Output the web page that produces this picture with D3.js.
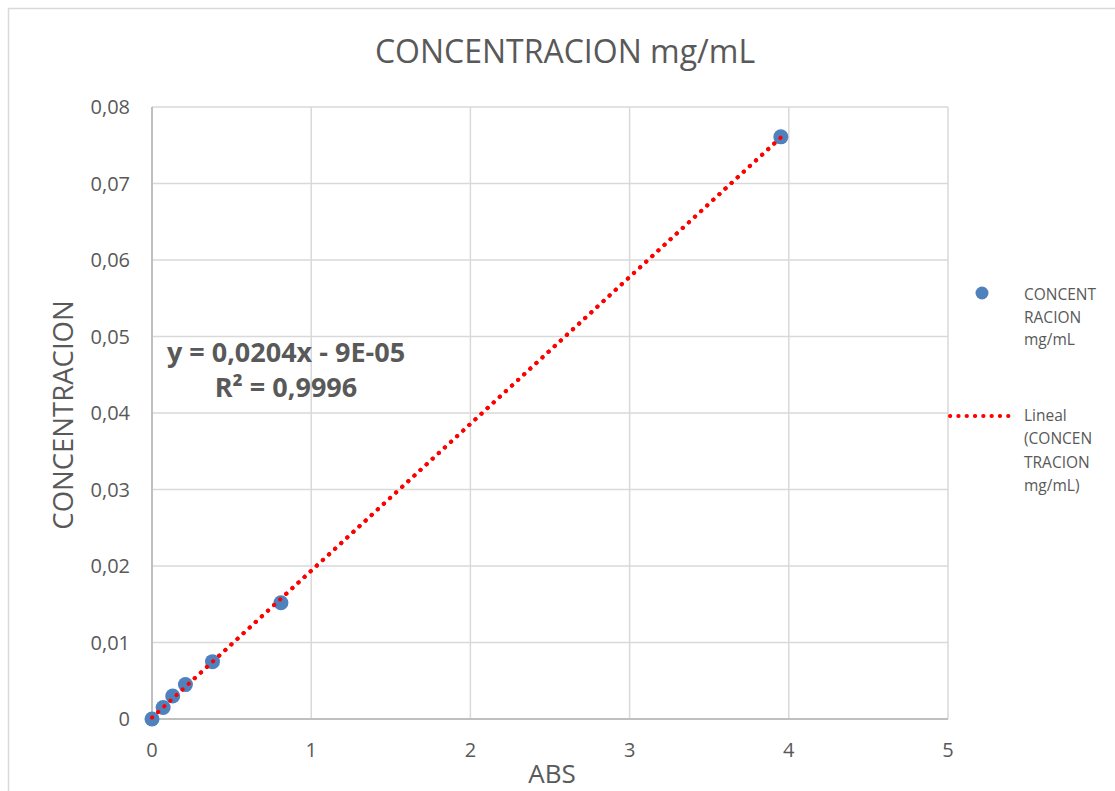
<!DOCTYPE html>
<html>
<head>
<meta charset="utf-8">
<script src="https://cdn.jsdelivr.net/npm/d3@7"></script>
<style>
  html, body { margin: 0; padding: 0; background: #fff; }
  svg { display: block; }
  text { font-family: "Open Sans", "Noto Sans", sans-serif; fill: #595959; }
</style>
</head>
<body>
<svg id="chart" width="1115" height="791"></svg>
<script>
// Calibration data: absorbance vs concentration (mg/mL)
const absValues = [0, 0.07, 0.13, 0.21, 0.38, 0.81, 3.95];
const concValues = [0, 0.0015, 0.003, 0.0045, 0.0075, 0.0152, 0.0761];
const xTicks = [0, 1, 2, 3, 4, 5];
const yTicks = [0, 0.01, 0.02, 0.03, 0.04, 0.05, 0.06, 0.07, 0.08];
// Trendline annotation as printed on the chart
const equationLines = ["y = 0,0204x - 9E-05", "R² = 0,9996"];
const seriesName = ["CONCENT", "RACION", "mg/mL"];
const trendName = ["Lineal", "(CONCEN", "TRACION", "mg/mL)"];

const svg = d3.select("#chart");
const W = 1115, H = 791;

// Outer chart frame
svg.append("rect")
  .attr("x", 8.5).attr("y", 8.5)
  .attr("width", W + 10).attr("height", H + 10)
  .attr("fill", "#fff").attr("stroke", "#d9d9d9").attr("stroke-width", 1.5);

const plot = { left: 152, right: 948, top: 107, bottom: 719 };
const x = d3.scaleLinear().domain([0, 5]).range([plot.left, plot.right]);
const y = d3.scaleLinear().domain([0, 0.08]).range([plot.bottom, plot.top]);
const comma = v => d3.format(".2~f")(v).replace(".", ",");

// Gridlines
const grid = svg.append("g");
grid.selectAll("line.h").data(yTicks.slice(1)).join("line")
  .attr("x1", plot.left).attr("x2", plot.right)
  .attr("y1", d => y(d)).attr("y2", d => y(d))
  .attr("stroke", "#d9d9d9").attr("stroke-width", 1.5);
grid.selectAll("line.v").data(xTicks.slice(1)).join("line")
  .attr("y1", plot.top).attr("y2", plot.bottom)
  .attr("x1", d => x(d)).attr("x2", d => x(d))
  .attr("stroke", "#d9d9d9").attr("stroke-width", 1.5);

// Axis lines
svg.append("line")
  .attr("x1", plot.left).attr("x2", plot.left)
  .attr("y1", plot.top).attr("y2", plot.bottom)
  .attr("stroke", "#bfbfbf").attr("stroke-width", 2);
svg.append("line")
  .attr("x1", plot.left).attr("x2", plot.right)
  .attr("y1", plot.bottom).attr("y2", plot.bottom)
  .attr("stroke", "#bfbfbf").attr("stroke-width", 2);

// Tick labels
svg.append("g").selectAll("text").data(yTicks).join("text")
  .attr("x", 130).attr("y", d => y(d))
  .attr("dy", "0.35em").attr("text-anchor", "end")
  .attr("font-size", 20)
  .text(d => d === 0 ? "0" : comma(d));
svg.append("g").selectAll("text").data(xTicks).join("text")
  .attr("x", d => x(d)).attr("y", 750)
  .attr("dy", "0.35em").attr("text-anchor", "middle")
  .attr("font-size", 20)
  .text(d => d);

// Titles
svg.append("text").attr("x", 565).attr("y", 52).attr("dy", "0.35em")
  .attr("text-anchor", "middle").attr("font-size", 32)
  .text("CONCENTRACION mg/mL");
svg.append("text").attr("x", 552).attr("y", 774).attr("dy", "0.35em")
  .attr("text-anchor", "middle").attr("font-size", 26)
  .text("ABS");
svg.append("text")
  .attr("transform", "translate(63,415) rotate(-90)")
  .attr("dy", "0.35em").attr("text-anchor", "middle").attr("font-size", 27.5)
  .text("CONCENTRACION");

// Least-squares linear trendline through the points
const mx = d3.mean(absValues), my = d3.mean(concValues);
const sxy = d3.sum(absValues, (v, i) => (v - mx) * (concValues[i] - my));
const sxx = d3.sum(absValues, v => (v - mx) ** 2);
const slope = sxy / sxx;
const intercept = my - slope * mx;
const trend = [0, d3.max(absValues)].map(v => [v, slope * v + intercept]);
const trendLine = d3.line().x(d => x(d[0])).y(d => y(d[1]));

const drawTrend = () => svg.append("path")
  .datum(trend)
  .attr("d", trendLine)
  .attr("fill", "none").attr("stroke", "#ff0000")
  .attr("stroke-width", 4).attr("stroke-linecap", "round")
  .attr("stroke-dasharray", "0.3 8");

drawTrend();

// Data points
svg.append("g").selectAll("circle").data(absValues).join("circle")
  .attr("cx", d => x(d)).attr("cy", (d, i) => y(concValues[i]))
  .attr("r", 7.5).attr("fill", "#4f81bd");

// Trendline dots stay visible on top of the markers
drawTrend();

// Trendline equation label
const eq = svg.append("text").attr("font-size", 27).attr("font-weight", "bold")
  .attr("text-anchor", "middle");
equationLines.forEach((t, i) =>
  eq.append("tspan").attr("x", 286).attr("y", 362 + i * 35).text(t));

// Legend
const legend = svg.append("g");
legend.append("circle").attr("cx", 982).attr("cy", 293).attr("r", 6.5).attr("fill", "#4f81bd");
const l1 = legend.append("text").attr("font-size", 15.5);
seriesName.forEach((t, i) =>
  l1.append("tspan").attr("x", 1024).attr("y", 300 + i * 22.5).text(t));
legend.append("line")
  .attr("x1", 950).attr("x2", 1016).attr("y1", 416).attr("y2", 416)
  .attr("stroke", "#ff0000").attr("stroke-width", 4)
  .attr("stroke-linecap", "round").attr("stroke-dasharray", "0.3 8");
const l2 = legend.append("text").attr("font-size", 15.5);
trendName.forEach((t, i) =>
  l2.append("tspan").attr("x", 1024).attr("y", 421 + i * 23.3).text(t));
</script>
</body>
</html>
